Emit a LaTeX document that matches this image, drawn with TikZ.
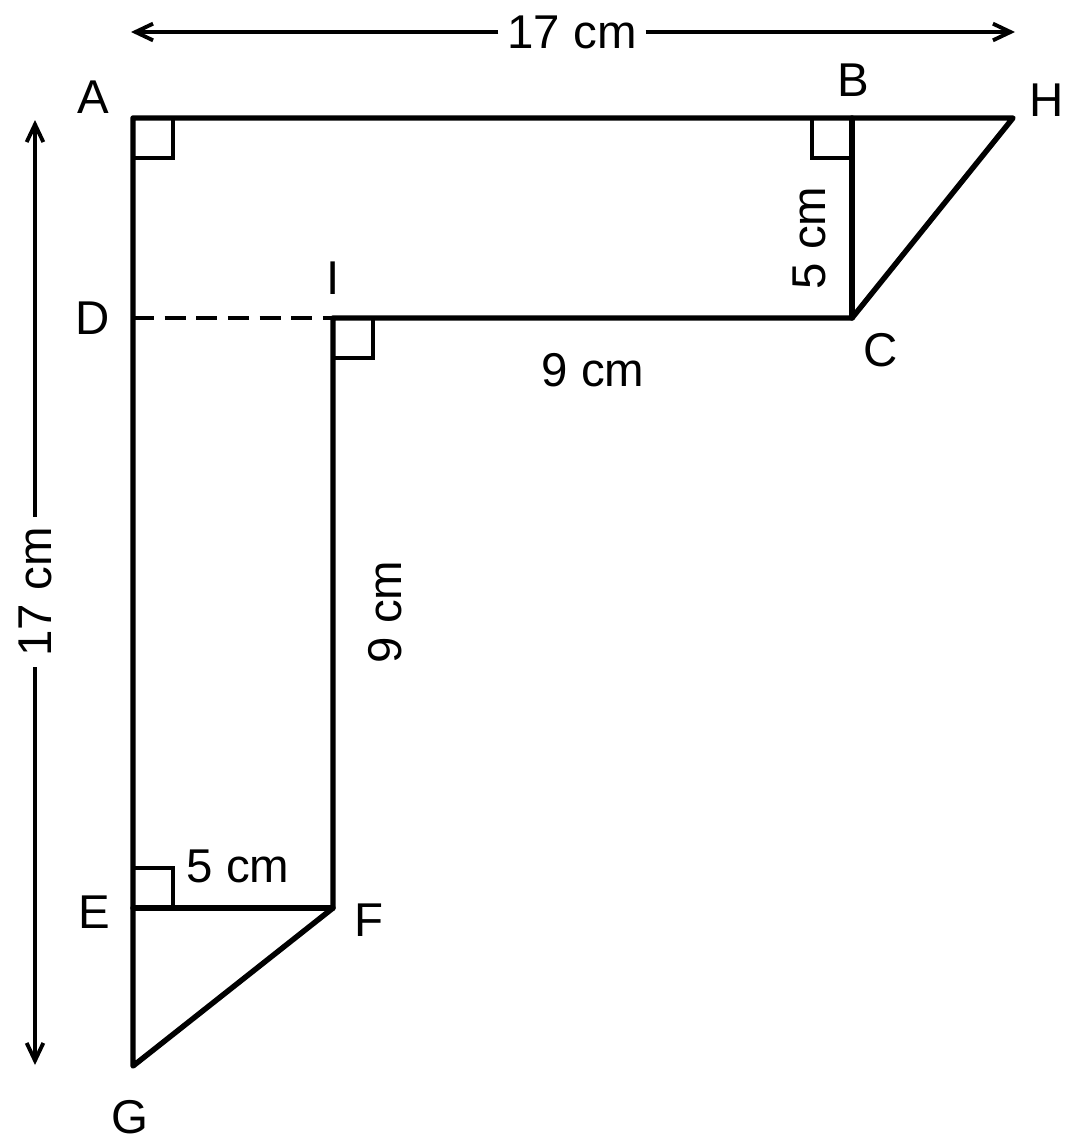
\documentclass[tikz,border=0pt]{standalone}
\usepackage{fontspec}
\setmainfont{Liberation Sans}
\usepackage{tikz}
\usetikzlibrary{arrows.meta}

\begin{document}
\begin{tikzpicture}[x=0.02cm,y=-0.02cm,
		lato/.style={line width=3.1pt,line join=round,line cap=round},
		retto/.style={line width=1.8pt},
		quota/.style={line width=2.2pt,-{Straight Barb[length=10pt,width=9.5pt]}},
		lab/.style={font=\fontsize{27}{31}\selectfont,inner sep=0pt}]
		\def\q{40}% lato del quadratino
		\useasboundingbox (0,0) rectangle (1080,1147);
		% vertici
		\coordinate (A) at (133,118);
		\coordinate (B) at (852,118);
		\coordinate (H) at (1013,118);
		\coordinate (C) at (852,318);
		\coordinate (I) at (333,318);
		\coordinate (D) at (133,318);
		\coordinate (F) at (333,908);
		\coordinate (E) at (133,908);
		\coordinate (G) at (133,1066);
		% contorno
		\draw[lato] (A) -- (H) -- (C) -- (I) -- (F) -- (G) -- cycle;
		\draw[lato] (B) -- (C);
		\draw[lato] (E) -- (F);
		\draw[line width=2.4pt,dash pattern=on 12pt off 6pt] (D) -- (I);
		% angoli retti
		\draw[retto] (A) ++(\q,0) -- ++(0,\q) -- ++(-\q,0);
		\draw[retto] (B) ++(-\q,0) -- ++(0,\q) -- ++(\q,0);
		\draw[retto] (I) ++(\q,0) -- ++(0,\q) -- ++(-\q,0);
		\draw[retto] (E) ++(0,-\q) -- ++(\q,0) -- ++(0,\q);
		% nomi dei punti
		\node[lab] (lA) at (93,97) {A};
		\node[lab] (lB) at (853,80) {B};
		\node[lab] (lH) at (1047,100) {H};
		\node[lab] (lI) at (333,278) {I};
		\node[lab] (lD) at (93,318) {D};
		\node[lab] (lC) at (881,350) {C};
		\node[lab] (lE) at (94,912) {E};
		\node[lab] (lF) at (369,920) {F};
		\node[lab] (lG) at (130,1117) {G};
		% misure
		\node[lab] (mBC) at (809,238) [rotate=90] {5 cm};
		\node[lab] (mIC) at (593,370) {9 cm};
		\node[lab] (mIF) at (385,612) [rotate=90] {9 cm};
		\node[lab] (mEF) at (238,866) {5 cm};
		% quote esterne
		\coordinate (qL) at (131,32);
		\coordinate (qR) at (1015,32);
		\coordinate (qT) at (35,120);
		\coordinate (qB) at (35,1065);
		\node[lab,inner sep=5pt] (top) at (572,32) {17 cm};
		\node[lab,inner sep=6pt,rotate=90] (sin) at (35,592) {17 cm};
		\draw[quota] (top) -- (qL);
		\draw[quota] (top) -- (qR);
		\draw[quota] (sin) -- (qT);
		\draw[quota] (sin) -- (qB);
		%\draw[quota] (qL) -- (qR);
	\end{tikzpicture}
\end{document}
